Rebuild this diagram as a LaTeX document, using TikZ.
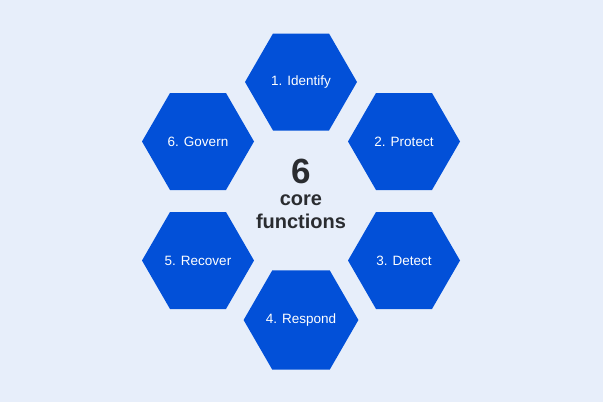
\documentclass[tikz,border=0pt]{standalone}
\usepackage{fontspec}
\setmainfont{Liberation Sans}
\usetikzlibrary{shapes.geometric}
\definecolor{bg}{HTML}{E7EEFA}
\definecolor{hexblue}{HTML}{0250D8}
\definecolor{ink}{HTML}{2A2C30}
\tikzset{
  hexa/.style={regular polygon, regular polygon sides=6, minimum size=112pt,
    inner sep=0pt, fill=hexblue, draw=none, text=white,
    font=\fontsize{13.5pt}{16pt}\selectfont},
}
\begin{document}
\begin{tikzpicture}[x=1pt,y=-1pt]
\fill[bg] (0,0) rectangle (603,402);
\useasboundingbox (0,0) rectangle (603,402);
\node[hexa] (identify) at (301,82) {1. Identify};
\node[hexa] (protect) at (404,141.5) {2. Protect};
\node[hexa] (detect) at (404,260.5) {3. Detect};
\node[hexa] (respond) at (301,320) {4. Respond};
\node[hexa] (recover) at (198,260.5) {5. Recover};
\node[hexa] (govern) at (198,141.5) {6. Govern};
\node[anchor=base, text=ink, font=\bfseries\fontsize{35pt}{40pt}\selectfont, inner sep=0pt] (six) at (301,183) {6};
\node[anchor=base, text=ink, font=\bfseries\fontsize{20pt}{24pt}\selectfont, inner sep=0pt] (core) at (301,205) {core};
\node[anchor=base, text=ink, font=\bfseries\fontsize{20pt}{24pt}\selectfont, inner sep=0pt] (functions) at (301,228) {functions};
\end{tikzpicture}
\end{document}
